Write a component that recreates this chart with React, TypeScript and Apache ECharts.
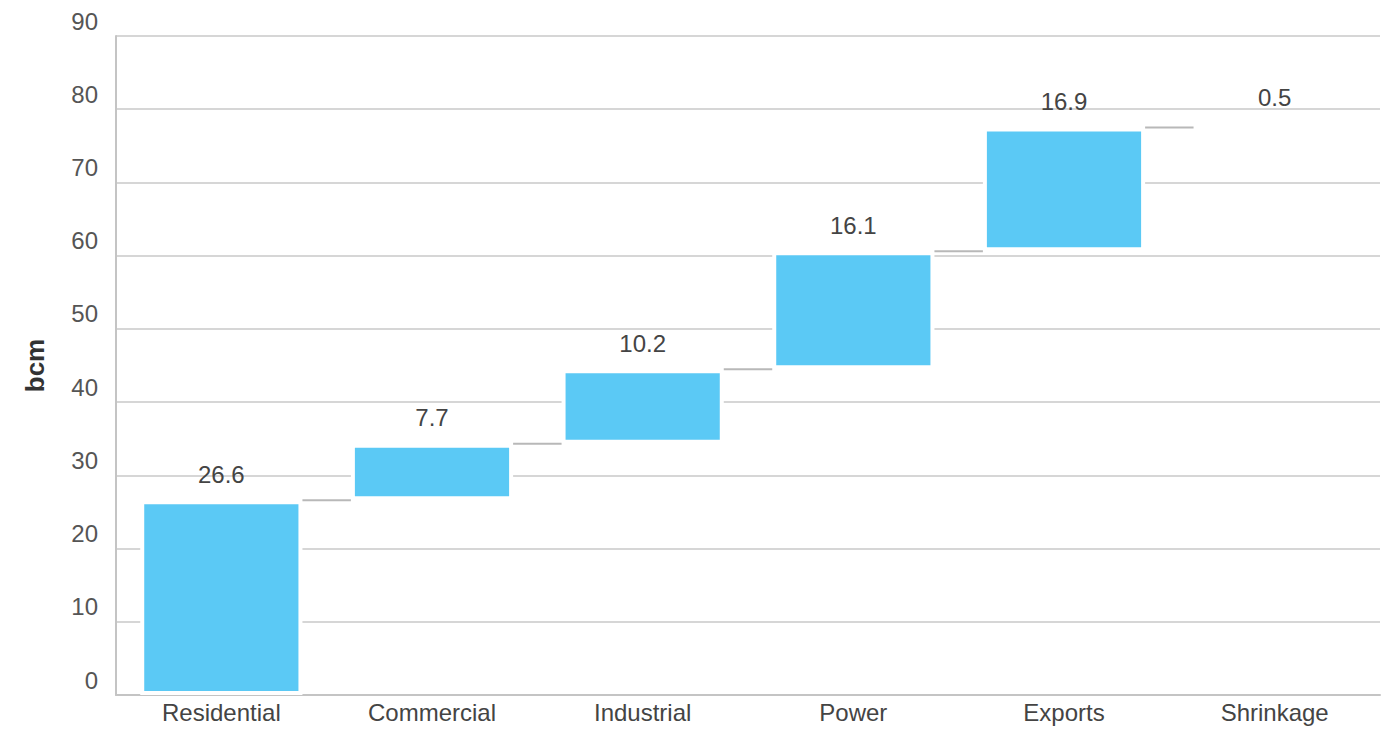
import React, { useEffect, useRef } from "react";
import * as echarts from "echarts";

const categories = ["Residential", "Commercial", "Industrial", "Power", "Exports", "Shrinkage"];
const values = [26.6, 7.7, 10.2, 16.1, 16.9, 0.5];
const yTicks = { min: 0, max: 90, interval: 10 };
const axisTitle = "bcm";

const BAR_FRACTION = 0.77;

export default function App() {
  const ref = useRef<HTMLDivElement>(null);
  useEffect(() => {
    if (!ref.current) return;
    const chart = echarts.init(ref.current, undefined, { renderer: "svg" });
    const bases: number[] = [];
    let run = 0;
    values.forEach((v) => {
      bases.push(run);
      run += v;
    });
    const connectorData = categories.map((_, i) => (i === 0 ? [i, 0] : [i, bases[i]]));
    chart.setOption({
      animation: false,
      textStyle: { fontFamily: "Liberation Sans, Arial, sans-serif" },
      grid: { left: 116, right: 15, top: 36, bottom: 36, containLabel: false },
      xAxis: {
        type: "category",
        data: categories,
        axisLine: { show: true, lineStyle: { color: "#c4c4c4", width: 2 } },
        axisTick: { show: false },
        axisLabel: { color: "#444", fontSize: 24, margin: 5 },
        splitLine: { show: false },
      },
      yAxis: {
        type: "value",
        min: yTicks.min,
        max: yTicks.max,
        interval: yTicks.interval,
        name: axisTitle,
        nameLocation: "middle",
        nameGap: 68,
        nameRotate: 90,
        nameTextStyle: { color: "#333", fontSize: 26, fontWeight: "bold" },
        axisLine: { show: true, lineStyle: { color: "#c4c4c4", width: 2 } },
        axisTick: { show: false },
        axisLabel: {
          color: "#555",
          fontSize: 24,
          margin: 18,
          verticalAlign: "bottom",
          padding: [0, 0, 3, 0],
        },
        splitLine: { show: true, lineStyle: { color: "#c8c8c8", width: 1.5 } },
      },
      series: [
        {
          type: "bar",
          stack: "w",
          barWidth: `${BAR_FRACTION * 100}%`,
          data: bases,
          itemStyle: { color: "transparent", borderWidth: 0 },
          silent: true,
        },
        {
          type: "bar",
          stack: "w",
          barWidth: `${BAR_FRACTION * 100}%`,
          data: values,
          itemStyle: { color: "#5BC9F5", borderColor: "#ffffff", borderWidth: 4 },
          label: {
            show: true,
            position: "top",
            distance: 14,
            color: "#444",
            fontSize: 24,
            formatter: (p: any) => String(p.value),
          },
        },
        {
          type: "custom",
          data: connectorData,
          z: 5,
          renderItem: (params: any, api: any) => {
            const i = api.value(0);
            if (i === 0) return null;
            const level = api.value(1);
            const band = api.size([1, 0])[0];
            const half = (band * BAR_FRACTION) / 2;
            const prev = api.coord([i - 1, level]);
            const cur = api.coord([i, level]);
            return {
              type: "line",
              shape: { x1: prev[0] + half, y1: prev[1], x2: cur[0] - half, y2: cur[1] },
              style: { stroke: "#b8b8b8", lineWidth: 2 },
            };
          },
        },
      ],
    });
    return () => chart.dispose();
  }, []);
  return (
    <div
      ref={ref}
      style={{ position: "absolute", left: 0, top: 0, width: 1395, height: 731, background: "#fff" }}
    />
  );
}
